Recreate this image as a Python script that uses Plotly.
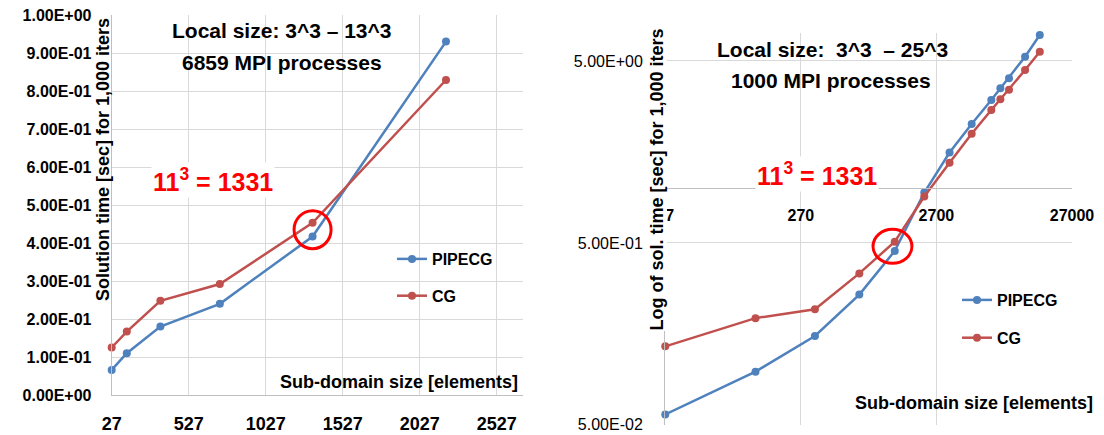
import math
import plotly.graph_objects as go

W, H = 1104, 435

# ---------------- data ----------------
left_x = [27, 125, 343, 729, 1331, 2197]
left_pipecg = [0.066, 0.110, 0.180, 0.240, 0.417, 0.930]
left_cg = [0.125, 0.167, 0.248, 0.292, 0.453, 0.829]

right_x = [27, 125, 343, 729, 1331, 2197, 3375, 4913, 6859, 8000, 9261, 12167, 15625]
right_pipecg = [0.057, 0.098, 0.154, 0.260, 0.452, 0.945, 1.57, 2.25, 3.05, 3.54, 4.02, 5.28, 6.95]
right_cg = [0.135, 0.193, 0.216, 0.340, 0.508, 0.900, 1.38, 1.99, 2.69, 3.08, 3.47, 4.46, 5.62]

left_xticks = [27, 527, 1027, 1527, 2027, 2527]
left_yticks = [0.0, 0.1, 0.2, 0.3, 0.4, 0.5, 0.6, 0.7, 0.8, 0.9, 1.0]
left_yticktext = ["0.00E+00", "1.00E-01", "2.00E-01", "3.00E-01", "4.00E-01", "5.00E-01",
                  "6.00E-01", "7.00E-01", "8.00E-01", "9.00E-01", "1.00E+00"]
right_xticks = [27, 270, 2700, 27000]
right_yticks = [0.05, 0.5, 5]
right_yticktext = ["5.00E-02", "5.00E-01", "5.00E+00"]

BLUE = "#4F81BD"
RED = "#C0504D"
GRID = "#D9D9D9"
AXIS = "#BFBFBF"
FONT = "Liberation Sans, Arial, sans-serif"


def px(x):
    return x / W


def py(y):
    return 1 - y / H


fig = go.Figure()

for xs, ys, name, color, xa, ya, lg in [
    (left_x, left_pipecg, "PIPECG", BLUE, "x", "y", "legend"),
    (left_x, left_cg, "CG", RED, "x", "y", "legend"),
    (right_x, right_pipecg, "PIPECG", BLUE, "x2", "y2", "legend2"),
    (right_x, right_cg, "CG", RED, "x2", "y2", "legend2"),
]:
    fig.add_trace(go.Scatter(
        x=xs, y=ys, name=name, mode="lines+markers",
        line=dict(color=color, width=2.5),
        marker=dict(color=color, size=8),
        xaxis=xa, yaxis=ya, legend=lg, legendgroup=name + xa,
        cliponaxis=False,
    ))

bold = dict(family=FONT, color="black", weight="bold")

fig.update_layout(
    template="none",
    width=W, height=H,
    margin=dict(l=0, r=0, t=0, b=0, autoexpand=False),
    paper_bgcolor="white", plot_bgcolor="white",
    font=dict(family=FONT, color="black"),
    xaxis=dict(
        domain=[px(111.7), px(523)], range=[27, 2697], anchor="y", automargin=False,
        tickmode="array", tickvals=left_xticks, ticktext=[str(v) for v in left_xticks],
        showgrid=True, gridcolor=GRID, gridwidth=1, zeroline=False,
        showline=True, linecolor=AXIS, linewidth=1, ticks="",
        tickfont=dict(size=18, **bold), ticklabelstandoff=12,
    ),
    yaxis=dict(
        domain=[py(395), py(15)], range=[0, 1.0], anchor="x", automargin=False,
        tickmode="array", tickvals=left_yticks, ticktext=left_yticktext,
        showgrid=True, gridcolor=GRID, gridwidth=1, zeroline=False,
        showline=True, linecolor=AXIS, linewidth=1, ticks="",
        tickfont=dict(size=16, **bold), ticklabelstandoff=16,
    ),
    xaxis2=dict(
        domain=[px(665), px(1072)], type="log", automargin=False,
        range=[math.log10(27) - 0.002, math.log10(27000)],
        anchor="free", position=py(188.2),
        tickmode="array", tickvals=right_xticks, ticktext=[str(v) for v in right_xticks],
        showgrid=True, gridcolor=GRID, gridwidth=1, zeroline=False,
        showline=True, linecolor=AXIS, linewidth=1, ticks="",
        tickfont=dict(size=16, **bold), ticklabelstandoff=13,
    ),
    yaxis2=dict(
        domain=[py(425), py(33)], type="log", automargin=False,
        range=[math.log10(0.0499), math.log10(5) + 28 / 182], anchor="x2",
        tickmode="array", tickvals=right_yticks, ticktext=right_yticktext,
        showgrid=True, gridcolor=GRID, gridwidth=1, zeroline=False,
        showline=True, linecolor=AXIS, linewidth=1, ticks="",
        tickfont=dict(size=16, family=FONT, color="black"), ticklabelstandoff=18,
    ),
    legend=dict(
        x=px(392), y=py(242), xanchor="left", yanchor="top",
        font=dict(size=16, **bold), bgcolor="rgba(0,0,0,0)",
        tracegroupgap=13, itemwidth=30,
    ),
    legend2=dict(
        x=px(957), y=py(283), xanchor="left", yanchor="top",
        font=dict(size=16, **bold), bgcolor="rgba(0,0,0,0)",
        tracegroupgap=14, itemwidth=30,
    ),
)

annots = [
    # left chart texts
    dict(x=px(281.5), y=py(31), text="Local size: 3^3 – 13^3", size=21, color="black", bg=None),
    dict(x=px(281.5), y=py(62), text="6859 MPI processes", size=21, color="black", bg=None),
    dict(x=px(212.7), y=py(180), text="11<sup>3</sup> = 1331", size=25, color="red", bg="white"),
    # right chart texts
    dict(x=px(832), y=py(50), text="Local size:\u00a0 3^3\u00a0 – 25^3", size=21, color="black", bg=None),
    dict(x=px(831), y=py(80), text="1000 MPI processes", size=21, color="black", bg=None),
    dict(x=px(817), y=py(174), text="11<sup>3</sup> = 1331", size=25, color="red", bg="white"),
]
for a in annots:
    fig.add_annotation(
        x=a["x"], y=a["y"], xref="paper", yref="paper", text=a["text"], showarrow=False,
        xanchor="center", yanchor="middle",
        font=dict(size=a["size"], family=FONT, color=a["color"], weight="bold"),
        bgcolor=a["bg"],
    )

# axis titles
fig.add_annotation(x=px(520), y=py(382), xref="paper", yref="paper",
                   text="Sub-domain size [elements]", showarrow=False,
                   xanchor="right", yanchor="middle", font=dict(size=18, **bold))
fig.add_annotation(x=px(1095), y=py(403), xref="paper", yref="paper",
                   text="Sub-domain size [elements]", showarrow=False,
                   xanchor="right", yanchor="middle", font=dict(size=18, **bold))
fig.add_annotation(x=px(103), y=py(160), xref="paper", yref="paper",
                   text="Solution time [sec] for 1,000 iters", showarrow=False, textangle=-90,
                   xanchor="center", yanchor="middle", font=dict(size=18, **bold))
fig.add_annotation(x=px(656.5), y=py(180), xref="paper", yref="paper",
                   text="Log of sol. time [sec] for 1,000 iters", showarrow=False, textangle=-90,
                   xanchor="center", yanchor="middle", font=dict(size=18, **bold),
                   bgcolor="white", borderpad=0)

# red circles around the 11^3 = 1331 crossover
i_l = left_x.index(1331)
i_r = right_x.index(1331)
left_cy = (left_pipecg[i_l] + left_cg[i_l]) / 2
right_cy = math.sqrt(right_pipecg[i_r] * right_cg[i_r])
fig.add_shape(type="circle", xref="x", yref="y", xsizemode="pixel", ysizemode="pixel",
              xanchor=1331, yanchor=left_cy, x0=-18.5, x1=18.5, y0=-19, y1=19,
              line=dict(color="red", width=3))
# right (log-log) circle: radii expressed as decade fractions (19.5 px / 135.7 px, 17 px / 182 px)
rx_dec, ry_dec = 19.5 / 135.7, 17 / 182
cx_r = 1331 * 10 ** (-0.017)
fig.add_shape(type="circle", xref="x2", yref="y2",
              x0=cx_r * 10 ** (-rx_dec), x1=cx_r * 10 ** rx_dec,
              y0=right_cy * 10 ** (-ry_dec), y1=right_cy * 10 ** ry_dec,
              line=dict(color="red", width=3))

fig.write_html("out.html")
